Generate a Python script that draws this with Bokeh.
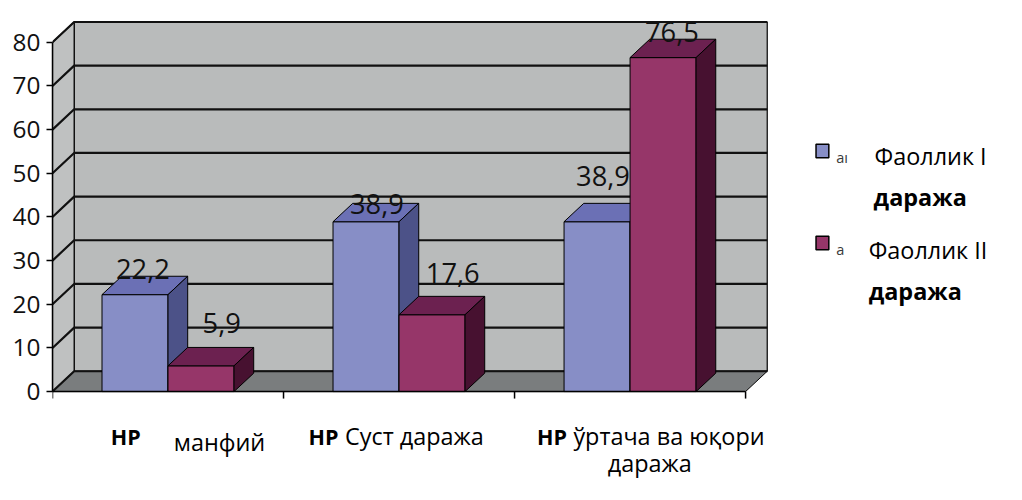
from bokeh.plotting import figure
from bokeh.models import Range1d, FixedTicker, ColumnDataSource
from bokeh.core.properties import value
from bokeh.embed import file_html
from bokeh.resources import INLINE

# ---------------- data ----------------
categories = ["НР манфий", "НР Суст даража", "НР ўртача ва юқори даража"]
series_names = ["Фаоллик I даража", "Фаоллик II даража"]
faollik_1 = [22.2, 38.9, 38.9]
faollik_2 = [5.9, 17.6, 76.5]
y_ticks = [0, 10, 20, 30, 40, 50, 60, 70, 80]

# ---------------- layout / style ----------------
W, H = 1006, 484
SX, SY = W / 1022, H / 500          # reference pixels -> canvas pixels
LEFT = 52
PX_CAT = 234.7 * SX                 # canvas pixels per category
PX_UNIT = 4.51 * SY                 # canvas pixels per value unit
FONT = "Open Sans"
front_cols = ["#878ec6", "#963669"]
top_cols = ["#6b70b5", "#6c2150"]
side_cols = ["#4c5288", "#471130"]
wall_col = "#b9bbbb"
side_wall_col = "#bfc1c1"
floor_col = "#7a7d7e"

GAP = 1.5                          # gap width 150%
BAR_W = 1.0 / (2 + GAP)
BAR_DX = 20 * SX / PX_CAT
BAR_DY = 19 * SY / PX_UNIT
WALL_DX = 22 * SX / PX_CAT
WALL_DY = 21 * SY / PX_UNIT
YMAX = y_ticks[-1]
N = len(categories)


def fs(px):
    return f"{px * (SX + SY) / 2:.1f}px"


def sx(px):
    """reference x pixel -> data x"""
    return -0.5 + (px * SX - LEFT) / PX_CAT


def sy(py):
    """reference y pixel -> data y"""
    return (404 - py) * SY / PX_UNIT


x_range = Range1d(-0.5, -0.5 + (W - LEFT) / PX_CAT)
y_range = Range1d(sy(500), sy(0))

p = figure(width=W, height=H, x_range=x_range, y_range=y_range,
           output_backend="svg", toolbar_location=None,
           x_axis_location=None, min_border_left=LEFT, min_border_right=0,
           min_border_top=0, min_border_bottom=0, outline_line_color=None,
           background_fill_color="white", border_fill_color="white")
p.grid.visible = False

ax = p.yaxis[0]
ax.ticker = FixedTicker(ticks=y_ticks)
ax.bounds = (0, YMAX)
ax.major_tick_out = 6
ax.major_tick_in = 0
ax.minor_tick_line_color = None
ax.axis_line_width = 1.5
ax.major_tick_line_width = 1.5
ax.major_label_text_font = FONT
ax.major_label_text_font_size = fs(25)
ax.major_label_text_color = "#111111"
ax.major_label_standoff = 6

# ---------------- walls & floor ----------------
xl, xr = -0.5, N - 0.5
p.patches(xs=[[xl + WALL_DX, xr + WALL_DX, xr + WALL_DX, xl + WALL_DX]],
          ys=[[WALL_DY, WALL_DY, YMAX + WALL_DY, YMAX + WALL_DY]],
          fill_color=wall_col, line_color="black", line_width=1.2)
p.patches(xs=[[xl, xl + WALL_DX, xl + WALL_DX, xl]],
          ys=[[0, WALL_DY, YMAX + WALL_DY, YMAX]],
          fill_color=side_wall_col, line_color="black", line_width=1.2)
p.patches(xs=[[xl, xr, xr + WALL_DX, xl + WALL_DX]],
          ys=[[0, 0, WALL_DY, WALL_DY]],
          fill_color=floor_col, line_color="black", line_width=1.0)

grid_xs, grid_ys = [], []
for t in y_ticks:
    grid_xs.append([xl, xl + WALL_DX, xr + WALL_DX])
    grid_ys.append([t, t + WALL_DY, t + WALL_DY])
p.multi_line(xs=grid_xs, ys=grid_ys, line_color="#111111", line_width=2.2)

# ---------------- bars ----------------
bxs, bys, bcols = [], [], []
lab_x, lab_y, lab_t = [], [], []
label_dx_px = [[8, 21], [11, 21], [6, 9]]
label_dy_px = [[8, 25], [-1, 24], [28, 7]]
series = [faollik_1, faollik_2]
for i in range(N):
    for s, vals in enumerate(series):
        v = vals[i]
        x0 = i - BAR_W + s * BAR_W
        x1 = x0 + BAR_W
        bxs += [[x0, x1, x1, x0],
                [x0, x1, x1 + BAR_DX, x0 + BAR_DX],
                [x1, x1 + BAR_DX, x1 + BAR_DX, x1]]
        bys += [[0, 0, v, v],
                [v, v, v + BAR_DY, v + BAR_DY],
                [0, BAR_DY, v + BAR_DY, v]]
        bcols += [front_cols[s], top_cols[s], side_cols[s]]
        lab_x.append((x0 + x1) / 2 + label_dx_px[i][s] * SX / PX_CAT)
        lab_y.append(v + BAR_DY + label_dy_px[i][s] * SY / PX_UNIT)
        lab_t.append(f"{v:.1f}".replace(".", ","))

p.patches(xs="xs", ys="ys", fill_color="c", line_color="black", line_width=1.0,
          source=ColumnDataSource(dict(xs=bxs, ys=bys, c=bcols)))

# front x axis line and ticks
p.segment(x0=[xl], y0=[0], x1=[xr], y1=[0], line_color="black", line_width=1.5)
bounds = [k - 0.5 for k in range(N + 1)]
p.segment(x0=bounds, y0=[0] * len(bounds), x1=bounds,
          y1=[-7 / PX_UNIT] * len(bounds), line_color="black", line_width=1.5)

# data labels
p.text(x=lab_x, y=lab_y, text=lab_t, text_font=value(FONT),
       text_font_size=value(fs(28)), text_align="center",
       text_baseline="alphabetic", text_color="#111111")

# ---------------- category labels ----------------
prefixes, rests = [], []
for c in categories:
    a, b = c.split(" ", 1)
    prefixes.append(a)
    rests.append(b)
cat_lines = [[rests[0]], [rests[1]], rests[2].rsplit(" ", 1)]
prefix_pos = [(112, 450), (313, 450), (545, 450)]
rest_pos = [[(176, 456)], [(350, 450)], [(582, 450), (617, 478)]]

p.text(x=[sx(a) for a, b in prefix_pos], y=[sy(b) for a, b in prefix_pos],
       text=prefixes, text_font=value(FONT), text_font_style="bold",
       text_font_size=value(fs(22)), text_align="left",
       text_baseline="alphabetic", text_color="black")
rx, ry, rt = [], [], []
for lines, poss in zip(cat_lines, rest_pos):
    for t, (a, b) in zip(lines, poss):
        rx.append(sx(a))
        ry.append(sy(b))
        rt.append(t)
p.text(x=rx, y=ry, text=rt, text_font=value(FONT),
       text_font_size=value(fs(24)), text_align="left",
       text_baseline="alphabetic", text_color="black")

# ---------------- legend ----------------
sq_pos = [(835, 155.5), (835, 250.5)]
p.rect(x=[sx(a) for a, b in sq_pos], y=[sy(b) for a, b in sq_pos],
       width=13 * SX, height=14 * SY, width_units="screen", height_units="screen",
       fill_color=front_cols, line_color="black", line_width=1.5)
p.text(x=[sx(849), sx(849)], y=[sy(162), sy(257)], text=["аı", "а"],
       text_font=value(FONT), text_font_size=value(fs(15)),
       text_baseline="alphabetic", text_color="#3a3a3a")
leg_first = [n.rsplit(" ", 1)[0] for n in series_names]
leg_second = [n.rsplit(" ", 1)[1] for n in series_names]
p.text(x=[sx(888), sx(882)], y=[sy(161), sy(258)], text=leg_first,
       text_font=value(FONT), text_font_size=value(fs(24)),
       text_baseline="alphabetic", text_color="black")
p.text(x=[sx(887), sx(882)], y=[sy(203), sy(300)], text=leg_second,
       text_font=value(FONT), text_font_size=value(fs(24)),
       text_font_style="bold", text_baseline="alphabetic", text_color="black")

open("out.html", "w").write(file_html(p, INLINE))
